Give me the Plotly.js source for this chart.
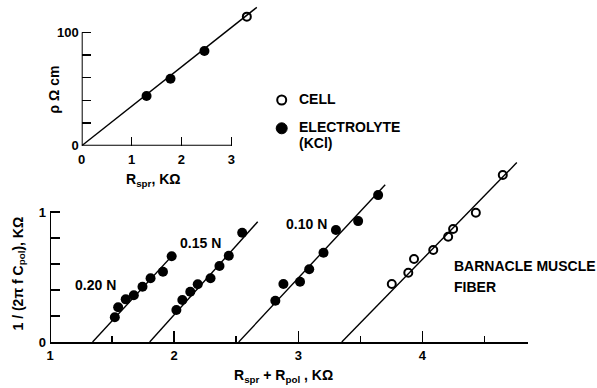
<!DOCTYPE html>
<html><head><meta charset="utf-8">
<script src="https://cdn.plot.ly/plotly-3.0.1.min.js"></script>
<style>html,body{margin:0;padding:0;background:#fff}</style>
</head><body><div id="chart" style="width:597px;height:388px"></div>
<script>
// Inset: resistivity vs spreading resistance
const insetElectrolyteX = [1.30, 1.78, 2.46];
const insetElectrolyteY = [43.8, 59.1, 83.5];
const insetCellX = [3.31];
const insetCellY = [113.8];
const insetFitX = [0, 3.51];
const insetFitY = [0, 122];

// Main: 1/(2 pi f Cpol) vs Rspr + Rpol
const n20X = [1.522, 1.549, 1.61, 1.675, 1.745, 1.81, 1.91, 1.98];
const n20Y = [0.19, 0.267, 0.328, 0.36, 0.425, 0.49, 0.54, 0.66];
const n20FitX = [1.343, 2.0];
const n20FitY = [0, 0.68];

const n15X = [2.018, 2.066, 2.13, 2.19, 2.293, 2.365, 2.44, 2.548];
const n15Y = [0.246, 0.323, 0.387, 0.444, 0.49, 0.585, 0.664, 0.84];
const n15FitX = [1.803, 2.673];
const n15FitY = [0, 0.925];

const n10X = [2.815, 2.88, 3.014, 3.088, 3.203, 3.303, 3.482, 3.643];
const n10Y = [0.318, 0.446, 0.464, 0.559, 0.687, 0.862, 0.93, 1.13];
const n10FitX = [2.52, 3.70];
const n10FitY = [0, 1.21];

const fiberX = [3.753, 3.886, 3.932, 4.087, 4.207, 4.247, 4.43, 4.647];
const fiberY = [0.446, 0.533, 0.638, 0.708, 0.81, 0.869, 0.995, 1.285];
const fiberFitX = [3.35, 4.76];
const fiberFitY = [0, 1.38];

const mainXTicks = [1, 2, 3, 4];
const mainXMinor = [1.5, 2.5, 3.5, 4.5];
const mainYTicks = [0, 1];
const mainYMinor = [0.2, 0.4, 0.6, 0.8];
const insetXTicks = [0, 1, 2, 3];
const insetYTicks = [0, 100];
const insetYMinor = [20, 40, 60, 80];

const seriesLabels = ['0.20 N', '0.15 N', '0.10 N'];

const FONT = 'Liberation Sans, Arial, sans-serif';
const filled = {symbol: 'circle', size: 10, color: '#000'};
const open = {symbol: 'circle-open', size: 8, color: '#000', line: {width: 2, color: '#000'}};
const fitLine = {color: '#000', width: 1.4};

function fit(x, y, xa, ya) {
  return {x: x, y: y, xaxis: xa, yaxis: ya, mode: 'lines', line: fitLine, showlegend: false, hoverinfo: 'skip'};
}
function pts(x, y, xa, ya, m) {
  return {x: x, y: y, xaxis: xa, yaxis: ya, mode: 'markers', marker: m, showlegend: false, cliponaxis: false};
}

const data = [
  fit(insetFitX, insetFitY, 'x2', 'y2'),
  pts(insetElectrolyteX, insetElectrolyteY, 'x2', 'y2', filled),
  pts(insetCellX, insetCellY, 'x2', 'y2', open),
  fit(n20FitX, n20FitY, 'x', 'y'),
  pts(n20X, n20Y, 'x', 'y', filled),
  fit(n15FitX, n15FitY, 'x', 'y'),
  pts(n15X, n15Y, 'x', 'y', filled),
  fit(n10FitX, n10FitY, 'x', 'y'),
  pts(n10X, n10Y, 'x', 'y', filled),
  fit(fiberFitX, fiberFitY, 'x', 'y'),
  pts(fiberX, fiberY, 'x', 'y', open)
];

const tickFont = {family: FONT, size: 13, color: '#000', weight: 'bold'};
const labFont = {family: FONT, size: 14, color: '#000', weight: 'bold'};

function ann(x, y, text, opts) {
  return Object.assign({xref: 'paper', yref: 'paper', x: x / 597, y: (388 - y) / 388, text: text,
    showarrow: false, font: labFont, xanchor: 'center', yanchor: 'middle'}, opts || {});
}

const layout = {
  width: 597, height: 388,
  margin: {l: 0, r: 0, t: 0, b: 0},
  paper_bgcolor: '#fff', plot_bgcolor: 'rgba(0,0,0,0)',
  showlegend: false,
  xaxis: {
    domain: [0.08375, 0.8844], range: [1, 4.85], anchor: 'y',
    showgrid: false, zeroline: false, showline: true, linewidth: 2, linecolor: '#000',
    tickvals: mainXTicks, ticktext: mainXTicks.map(String), ticks: 'inside', ticklen: 11, tickwidth: 1.6, tickcolor: '#000',
    minor: {tickvals: mainXMinor, ticks: 'inside', ticklen: 6, tickwidth: 1.6, tickcolor: '#000'},
    tickfont: tickFont
  },
  yaxis: {
    domain: [0.11856, 0.5943], range: [0, 1.42], anchor: 'x',
    showgrid: false, zeroline: false, showline: false,
    tickvals: mainYTicks, ticktext: mainYTicks.map(String), ticks: 'inside', ticklen: 10, tickwidth: 1.6, tickcolor: '#000',
    minor: {tickvals: mainYMinor, ticks: 'inside', ticklen: 10, tickwidth: 1.6, tickcolor: '#000'},
    tickfont: tickFont, ticklabelstandoff: 3
  },
  xaxis2: {
    domain: [0.13685, 0.4335], range: [0, 3.55], anchor: 'y2',
    showgrid: false, zeroline: false, showline: false,
    tickvals: insetXTicks, ticktext: insetXTicks.map(String), ticks: 'inside', ticklen: 9, tickwidth: 1.6, tickcolor: '#000',
    tickfont: tickFont, ticklabelstandoff: 4
  },
  yaxis2: {
    domain: [0.6245, 0.9898], range: [0, 125], anchor: 'x2',
    showgrid: false, zeroline: false, showline: false,
    tickvals: insetYTicks, ticktext: insetYTicks.map(String), ticks: 'inside', ticklen: 9, tickwidth: 1.6, tickcolor: '#000',
    minor: {tickvals: insetYMinor, ticks: 'inside', ticklen: 9, tickwidth: 1.6, tickcolor: '#000'},
    tickfont: tickFont, ticklabelstandoff: 2
  },
  shapes: [
    {type: 'line', xref: 'x', yref: 'y', x0: 1, x1: 1, y0: 0, y1: 1, line: {color: '#000', width: 2}},
    {type: 'line', xref: 'x2', yref: 'y2', x0: 0, x1: 0, y0: 0, y1: 100, line: {color: '#000', width: 2}},
    {type: 'line', xref: 'x2', yref: 'y2', x0: 0, x1: 3, y0: 0, y1: 0, line: {color: '#000', width: 2}},
    {type: 'circle', xref: 'paper', yref: 'paper', xsizemode: 'pixel', ysizemode: 'pixel',
     xanchor: 281.7/597, yanchor: (388-100)/388, x0: -4.5, x1: 4.5, y0: -4.5, y1: 4.5,
     line: {color: '#000', width: 2}, fillcolor: 'rgba(0,0,0,0)'},
    {type: 'circle', xref: 'paper', yref: 'paper', xsizemode: 'pixel', ysizemode: 'pixel',
     xanchor: 281.7/597, yanchor: (388-128.3)/388, x0: -5.5, x1: 5.5, y0: -5.5, y1: 5.5,
     line: {color: '#000', width: 1}, fillcolor: '#000'}
  ],
  annotations: [
    ann(95, 285, seriesLabels[0]),
    ann(200, 243, seriesLabels[1]),
    ann(306.7, 224, seriesLabels[2]),
    ann(451.7, 266, 'BARNACLE MUSCLE', {xanchor: 'left'}),
    ann(451.7, 286.7, 'FIBER', {xanchor: 'left'}),
    ann(297, 99.5, 'CELL', {xanchor: 'left'}),
    ann(297, 127.3, 'ELECTROLYTE', {xanchor: 'left'}),
    ann(297, 143.3, '(KCl)', {xanchor: 'left'}),
    ann(283, 376, 'R<sub>spr</sub> + R<sub>pol</sub> , KΩ'),
    ann(18.5, 274, '1 / (2π f C<sub>pol</sub>), KΩ', {textangle: -90}),
    ann(153, 180, 'R<sub>spr</sub>, KΩ'),
    ann(53.5, 90, 'ρ Ω cm', {textangle: -90})
  ]
};

Plotly.newPlot('chart', data, layout, {staticPlot: true, displayModeBar: false});
</script></body></html>
